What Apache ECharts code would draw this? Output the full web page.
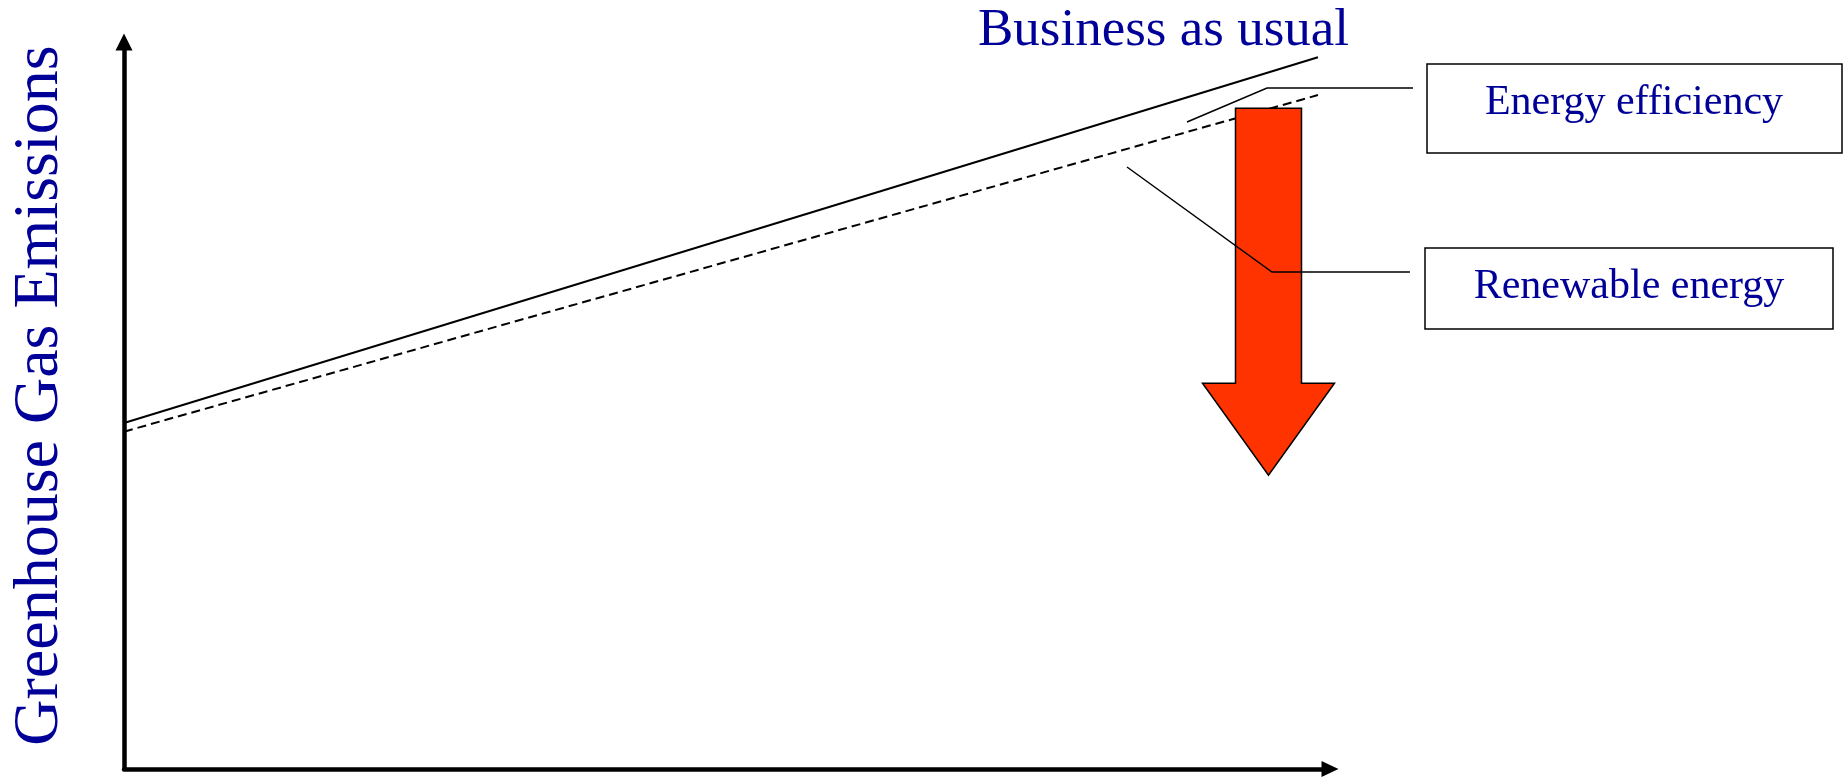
<!DOCTYPE html>
<html>
<head>
<meta charset="utf-8">
<script src="https://cdn.jsdelivr.net/npm/echarts@6/dist/echarts.min.js"></script>
<style>
  html, body { margin: 0; padding: 0; background: #fff; }
  #main { width: 1845px; height: 777px; }
</style>
</head>
<body>
<div id="main"></div>
<script>
// schematic values (axis units 0..100)
var timeline = [0, 99]
var businessAsUsual = [47.6, 97.9]
var withMeasures = [46.4, 92.7]
// reduction arrow: x, from, to
var reduction = [[94.9, 90.9, 40.4]]

var textBlue = '#000099'
var serif = 'Liberation Serif'

function pairs(xs, ys) {
  return xs.map(function (x, i) { return [x, ys[i]] })
}

var myChart = echarts.init(document.getElementById('main'))
var option = {
  animation: false,
  title: {
    text: 'Business as usual',
    left: 978,
    top: 5,
    padding: 0,
    textStyle: { color: textBlue, fontFamily: serif, fontSize: 53, fontWeight: 'normal' },
  },
  grid: { left: 124, right: 515, top: 42, bottom: 8 },
  xAxis: {
    type: 'value',
    min: 0,
    max: 100,
    axisLine: {
      onZero: false,
      symbol: ['none', 'triangle'],
      symbolSize: [16, 17],
      lineStyle: { color: '#000', width: 4.5 },
    },
    axisTick: { show: false },
    axisLabel: { show: false },
    splitLine: { show: false },
  },
  yAxis: {
    type: 'value',
    min: 0,
    max: 100,
    name: 'Greenhouse Gas Emissions',
    nameLocation: 'middle',
    nameGap: 52,
    nameTextStyle: { color: textBlue, fontFamily: serif, fontSize: 64, padding: [0, 0, 0, 20] },
    axisLine: {
      onZero: false,
      symbol: ['none', 'triangle'],
      symbolSize: [17, 17],
      lineStyle: { color: '#000', width: 4.5 },
    },
    axisTick: { show: false },
    axisLabel: { show: false },
    splitLine: { show: false },
  },
  series: [
    {
      name: 'Business as usual',
      type: 'line',
      symbol: 'none',
      data: pairs(timeline, businessAsUsual),
      lineStyle: { color: '#000', width: 2 },
    },
    {
      name: 'With measures',
      type: 'line',
      symbol: 'none',
      data: pairs(timeline, withMeasures),
      lineStyle: { color: '#000', width: 2, type: [9, 5] },
    },
    {
      name: 'Reduction',
      type: 'custom',
      coordinateSystem: 'cartesian2d',
      encode: { x: 0, y: [1, 2] },
      z: 5,
      data: reduction,
      renderItem: function (params, api) {
        var top = api.coord([api.value(0), api.value(1)])
        var tip = api.coord([api.value(0), api.value(2)])
        var cx = top[0]
        var hb = tip[1] - 92
        return {
          type: 'polygon',
          shape: {
            points: [
              [cx - 33, top[1]], [cx + 33, top[1]], [cx + 33, hb], [cx + 66, hb],
              [cx, tip[1]], [cx - 66, hb], [cx - 33, hb],
            ],
          },
          style: { fill: '#FF3300', stroke: '#000', lineWidth: 1.5 },
        }
      },
    },
  ],
  graphic: [
    // leader lines
    {
      type: 'polyline',
      z: 10,
      shape: { points: [[1187, 122], [1267, 88], [1413, 88]] },
      style: { stroke: '#000', lineWidth: 1.5, fill: null },
    },
    {
      type: 'polyline',
      z: 10,
      shape: { points: [[1127, 167], [1272, 272], [1410, 272]] },
      style: { stroke: '#000', lineWidth: 1.5, fill: null },
    },
    // boxes
    {
      type: 'rect',
      shape: { x: 1427, y: 64, width: 415, height: 89 },
      style: { fill: '#fff', stroke: '#000', lineWidth: 1.5 },
    },
    {
      type: 'text',
      x: 1634,
      y: 103,
      style: {
        text: 'Energy efficiency', fill: textBlue, font: '42px "Liberation Serif"',
        textAlign: 'center', textVerticalAlign: 'middle',
      },
    },
    {
      type: 'rect',
      shape: { x: 1425, y: 248, width: 408, height: 81 },
      style: { fill: '#fff', stroke: '#000', lineWidth: 1.5 },
    },
    {
      type: 'text',
      x: 1629,
      y: 287,
      style: {
        text: 'Renewable energy', fill: textBlue, font: '42px "Liberation Serif"',
        textAlign: 'center', textVerticalAlign: 'middle',
      },
    },
  ],
}
myChart.setOption(option)
</script>
</body>
</html>
